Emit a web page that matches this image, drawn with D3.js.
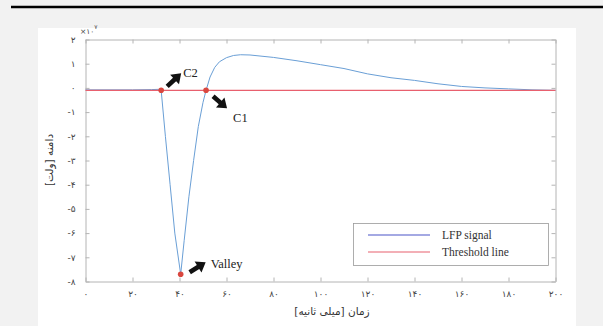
<!DOCTYPE html>
<html>
<head>
<meta charset="utf-8">
<script src="https://cdn.jsdelivr.net/npm/d3@7"></script>
<style>
  html, body { margin: 0; padding: 0; background: #f2f2f2; }
  svg { display: block; }
</style>
</head>
<body>
<div id="chart"></div>
<script>
// signal samples (time in ms, amplitude in units of 1e7)
const timeMs = [0, 10, 20, 28, 31, 32.2, 34, 36, 38, 40.5, 42, 44, 46, 48, 50, 51.3, 53, 55, 57, 60, 63, 66, 70, 80, 90, 100, 110, 120, 130, 140, 150, 160, 170, 180, 190, 200];
const amplitude = [-0.08, -0.08, -0.08, -0.07, -0.06, -0.1, -2.0, -4.0, -6.0, -7.7, -6.3, -4.5, -3.0, -1.6, -0.6, -0.1, 0.45, 0.85, 1.08, 1.25, 1.34, 1.37, 1.36, 1.26, 1.12, 0.96, 0.8, 0.58, 0.42, 0.31, 0.17, 0.06, 0.0, -0.04, -0.08, -0.1];
const threshold = -0.1;

const xTicks = [0, 20, 40, 60, 80, 100, 120, 140, 160, 180, 200];
const yTicks = [2, 1, 0, -1, -2, -3, -4, -5, -6, -7, -8];

// marked points: name, time, amplitude
const markNames = ["C2", "Valley", "C1"];
const markTime = [32.2, 40.5, 51.3];
const markAmp = [-0.1, -7.7, -0.1];

const legendLabels = ["LFP signal", "Threshold line"];

const W = 603, H = 326;
const fa = s => String(s).replace(/\d/g, d => "۰۱۲۳۴۵۶۷۸۹"[d]);

const svg = d3.select("#chart").append("svg")
    .attr("width", W).attr("height", H);

svg.append("rect").attr("width", W).attr("height", H).attr("fill", "#f2f2f2");
svg.append("line").attr("x1", 11).attr("x2", W).attr("y1", 7).attr("y2", 7)
    .attr("stroke", "#000").attr("stroke-width", 2.5);
svg.append("rect").attr("x", 38).attr("y", 28).attr("width", 538).attr("height", H - 28)
    .attr("fill", "#fff");

const x = d3.scaleLinear().domain([0, 200]).range([85.5, 555.5]);
const y = d3.scaleLinear().domain([-8, 2]).range([281.5, 39.5]);

const frameCol = "#b4b4b4";
const g = svg.append("g");

// axes (inner ticks, box on)
const tickLen = 4;
g.append("g").attr("transform", `translate(0,${y(-8)})`)
    .call(d3.axisBottom(x).tickValues(xTicks).tickSizeInner(-tickLen).tickSizeOuter(0).tickPadding(9).tickFormat(fa))
    .call(a => a.select(".domain").attr("stroke", frameCol))
    .call(a => a.selectAll(".tick line").attr("stroke", frameCol))
    .call(a => a.selectAll("text").attr("fill", "#444").attr("font-size", 9).attr("font-family", "DejaVu Sans"));
g.append("g").attr("transform", `translate(0,${y(2)})`)
    .call(d3.axisTop(x).tickValues(xTicks).tickSizeInner(-tickLen).tickSizeOuter(0).tickFormat(""))
    .call(a => a.select(".domain").attr("stroke", frameCol))
    .call(a => a.selectAll(".tick line").attr("stroke", frameCol));
g.append("g").attr("transform", `translate(${x(0)},0)`)
    .call(d3.axisLeft(y).tickValues(yTicks).tickSizeInner(-tickLen).tickSizeOuter(0).tickPadding(10).tickFormat(fa))
    .call(a => a.select(".domain").attr("stroke", frameCol))
    .call(a => a.selectAll(".tick line").attr("stroke", frameCol))
    .call(a => a.selectAll("text").attr("fill", "#444").attr("font-size", 9).attr("font-family", "DejaVu Sans").attr("direction", "ltr"));
g.append("g").attr("transform", `translate(${x(200)},0)`)
    .call(d3.axisRight(y).tickValues(yTicks).tickSizeInner(-tickLen).tickSizeOuter(0).tickFormat(""))
    .call(a => a.select(".domain").attr("stroke", frameCol))
    .call(a => a.selectAll(".tick line").attr("stroke", frameCol));

// exponent
const ex = svg.append("text").attr("x", 80).attr("y", 34).attr("fill", "#444")
    .attr("font-family", "DejaVu Sans").attr("font-size", 7.5).attr("direction", "ltr");
ex.append("tspan").text("×" + fa(10));
ex.append("tspan").attr("dy", -5).attr("font-size", 6).text(fa(7));

// axis titles
svg.append("text").attr("x", 332).attr("y", 315).attr("text-anchor", "middle")
    .attr("font-family", "DejaVu Sans").attr("font-size", 10.5).attr("fill", "#333")
    .attr("direction", "rtl").text("زمان [میلی ثانیه]");
svg.append("text").attr("transform", `translate(53,160) rotate(-90)`).attr("text-anchor", "middle")
    .attr("font-family", "DejaVu Sans").attr("font-size", 10.5).attr("fill", "#333")
    .attr("direction", "rtl").text("دامنه [ولت]");

// series
const sigCol = "#6a9fd6", thrCol = "#e8606e";
const pts = timeMs.map((t, i) => [t, amplitude[i]]);
g.append("path").datum(pts)
    .attr("d", d3.line().x(d => x(d[0])).y(d => y(d[1])))
    .attr("fill", "none").attr("stroke", sigCol).attr("stroke-width", 1);
g.append("line").attr("x1", x(0)).attr("x2", x(200)).attr("y1", y(threshold)).attr("y2", y(threshold))
    .attr("stroke", thrCol).attr("stroke-width", 1.2);

// markers
g.selectAll("circle.mk").data(markNames).join("circle").attr("class", "mk")
    .attr("cx", (d, i) => x(markTime[i])).attr("cy", (d, i) => y(markAmp[i]))
    .attr("r", 2.8).attr("fill", "#d9473f");

// arrows: offsets relative to marker (tail dx,dy ; tip dx,dy) and label offset
const arrowDef = {
    C2: {tail: [6, -4], tip: [20, -17], label: [22, -13]},
    Valley: {tail: [9, -2], tip: [25, -12], label: [30, -6]},
    C1: {tail: [7, 6], tip: [21, 18], label: [27, 32]}
};
function arrowPath(x0, y0, x1, y1) {
    const dx = x1 - x0, dy = y1 - y0, L = Math.hypot(dx, dy);
    const ux = dx / L, uy = dy / L, px = -uy, py = ux;
    const hl = 9, hw = 6.5, sw = 2.3;
    const bx = x1 - ux * hl, by = y1 - uy * hl;
    const p = [
        [x0 + px * sw, y0 + py * sw], [bx + px * sw, by + py * sw], [bx + px * hw, by + py * hw],
        [x1, y1],
        [bx - px * hw, by - py * hw], [bx - px * sw, by - py * sw], [x0 - px * sw, y0 - py * sw]
    ];
    return "M" + p.map(q => q.join(",")).join("L") + "Z";
}
markNames.forEach((n, i) => {
    const cx = x(markTime[i]), cy = y(markAmp[i]), a = arrowDef[n];
    g.append("path").attr("d", arrowPath(cx + a.tail[0], cy + a.tail[1], cx + a.tip[0], cy + a.tip[1]))
        .attr("fill", "#111");
    g.append("text").attr("x", cx + a.label[0]).attr("y", cy + a.label[1])
        .attr("font-family", "Liberation Serif").attr("font-size", 12.5).attr("fill", "#222").text(n);
});

// legend
const lg = svg.append("g");
lg.append("rect").attr("x", 353.5).attr("y", 223.5).attr("width", 195).attr("height", 42)
    .attr("fill", "#fff").attr("stroke", "#9a9a9a").attr("stroke-width", 0.8);
const legCols = ["#4a55c8", thrCol];
legendLabels.forEach((l, i) => {
    const ly = 235 + i * 17;
    lg.append("line").attr("x1", 368).attr("x2", 430).attr("y1", ly).attr("y2", ly)
        .attr("stroke", legCols[i]).attr("stroke-width", 1.1);
    lg.append("text").attr("x", 442).attr("y", ly + 4).attr("font-family", "Liberation Serif")
        .attr("font-size", 11.5).attr("fill", "#333").text(l);
});
</script>
</body>
</html>
